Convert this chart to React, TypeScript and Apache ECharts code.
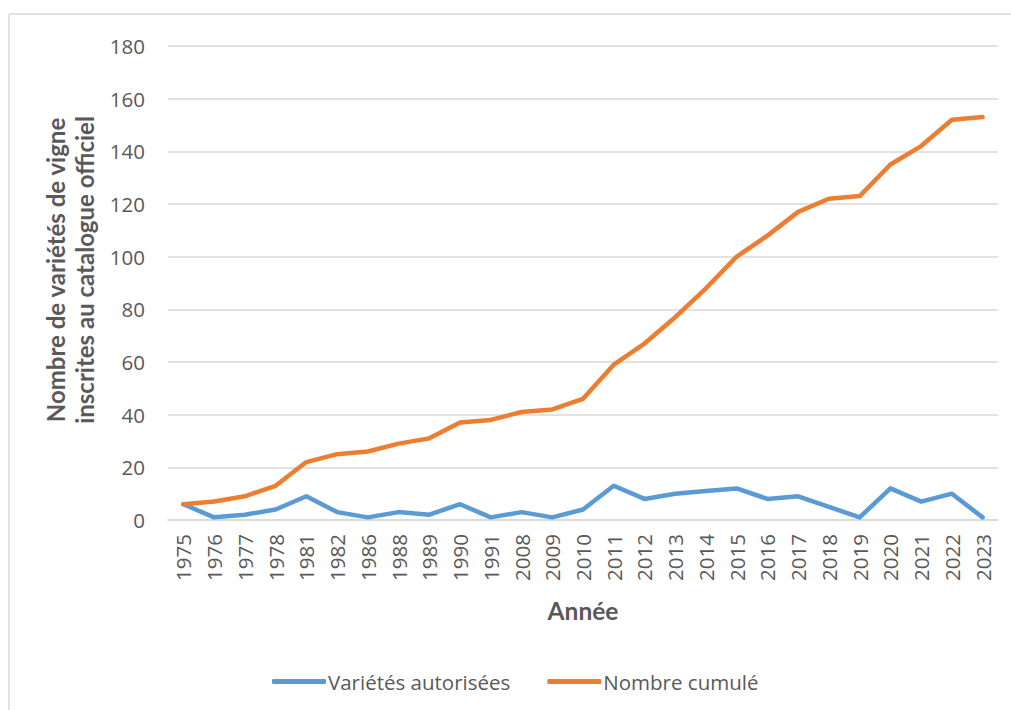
import React, { useEffect, useRef } from "react";
import * as echarts from "echarts";

// Années d'inscription
const years = [
  "1975", "1976", "1977", "1978", "1981", "1982", "1986", "1988", "1989",
  "1990", "1991", "2008", "2009", "2010", "2011", "2012", "2013", "2014",
  "2015", "2016", "2017", "2018", "2019", "2020", "2021", "2022", "2023",
];

// Variétés autorisées chaque année
const autorisees = [
  6, 1, 2, 4, 9, 3, 1, 3, 2, 6, 1, 3, 1, 4, 13, 8, 10, 11, 12, 8, 9, 5, 1, 12,
  7, 10, 1,
];

// Nombre cumulé de variétés inscrites
const cumule = [
  6, 7, 9, 13, 22, 25, 26, 29, 31, 37, 38, 41, 42, 46, 59, 67, 77, 88, 100, 108,
  117, 122, 123, 135, 142, 152, 153,
];

const seriesNames = ["Variétés autorisées", "Nombre cumulé"];
const yAxisTitle = "Nombre de variétés de vigne\ninscrites au catalogue officiel";
const xAxisTitle = "Année";

const TEXT = "#595959";
const GRID = "#d9d9d9";
const FONT = "'Open Sans', sans-serif";
const TITLE_FONT = "Lato, sans-serif";

export default function App() {
  const ref = useRef<HTMLDivElement>(null);

  useEffect(() => {
    if (!ref.current) return;
    const chart = echarts.init(ref.current, undefined, { renderer: "svg" });
    chart.setOption({
      animation: false,
      backgroundColor: "#ffffff",
      textStyle: { fontFamily: FONT },
      grid: { left: 168, right: 13, top: 46, bottom: 190 },
      graphic: [
        {
          type: "line",
          shape: { x1: 9, y1: 14, x2: 1011, y2: 14 },
          style: { stroke: GRID, lineWidth: 1.5 },
        },
        {
          type: "line",
          shape: { x1: 9, y1: 14, x2: 9, y2: 710 },
          style: { stroke: GRID, lineWidth: 1.5 },
        },
      ],
      legend: {
        data: seriesNames,
        left: 267,
        top: 666,
        icon: "roundRect",
        itemWidth: 54,
        itemHeight: 5,
        itemGap: 37,
        textStyle: { color: TEXT, fontSize: 20.5, fontFamily: FONT, padding: [0, 0, 0, -3] },
      },
      xAxis: {
        type: "category",
        data: years,
        boundaryGap: true,
        name: xAxisTitle,
        nameLocation: "middle",
        nameGap: 78,
        nameTextStyle: {
          color: TEXT,
          fontSize: 24.5,
          fontWeight: "bold",
          fontFamily: TITLE_FONT,
        },
        axisLine: { show: true, lineStyle: { color: GRID, width: 1.5 } },
        axisTick: { show: false },
        axisLabel: {
          rotate: 90,
          color: TEXT,
          fontSize: 20.5,
          margin: 14,
          fontFamily: FONT,
        },
      },
      yAxis: {
        type: "value",
        min: 0,
        max: 180,
        interval: 20,
        name: yAxisTitle,
        nameLocation: "middle",
        nameGap: 65,
        nameRotate: 90,
        nameTextStyle: {
          color: TEXT,
          fontSize: 24,
          fontWeight: "bold",
          fontFamily: TITLE_FONT,
          lineHeight: 29,
          padding: [0, 0, 0, 26],
        },
        axisLine: { show: false },
        axisTick: { show: false },
        axisLabel: { color: TEXT, fontSize: 20.5, margin: 23, fontFamily: FONT },
        splitLine: { lineStyle: { color: GRID, width: 1.5 } },
      },
      series: [
        {
          name: seriesNames[0],
          type: "line",
          data: autorisees,
          symbol: "none",
          color: "#5b9bd5",
          lineStyle: { width: 4.5, color: "#5b9bd5", cap: "round", join: "round" },
        },
        {
          name: seriesNames[1],
          type: "line",
          data: cumule,
          symbol: "none",
          color: "#ed7d31",
          lineStyle: { width: 4.5, color: "#ed7d31", cap: "round", join: "round" },
        },
      ],
    });
    return () => chart.dispose();
  }, []);

  return (
    <div
      ref={ref}
      style={{ position: "fixed", left: 0, top: 0, width: 1011, height: 710 }}
    />
  );
}
